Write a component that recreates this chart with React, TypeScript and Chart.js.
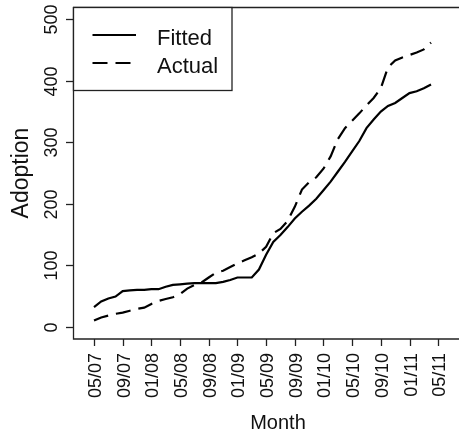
import React, { useEffect, useRef } from "react";
import { Chart, registerables } from "chart.js";

Chart.register(...registerables);

const months = [
  "05/07","06/07","07/07","08/07","09/07","10/07","11/07","12/07",
  "01/08","02/08","03/08","04/08","05/08","06/08","07/08","08/08",
  "09/08","10/08","11/08","12/08","01/09","02/09","03/09","04/09",
  "05/09","06/09","07/09","08/09","09/09","10/09","11/09","12/09",
  "01/10","02/10","03/10","04/10","05/10","06/10","07/10","08/10",
  "09/10","10/10","11/10","12/10","01/11","02/11","03/11","04/11",
];

const fitted = [
  32, 41, 46, 49, 58, 59, 60, 60,
  61, 61, 65, 68, 69, 70, 71, 71,
  71, 71, 73, 76, 80, 80, 80, 93,
  117, 138, 149, 162, 176, 187, 197, 208,
  222, 236, 252, 268, 285, 302, 323, 337,
  350, 359, 364, 372, 380, 383, 388, 394,
];

const actual = [
  10, 15, 18, 21, 23, 26, 29, 31,
  37, 42, 45, 48, 53, 62, 68, 72,
  80, 88, 91, 97, 103, 108, 113, 119,
  130, 152, 159, 172, 195, 223, 235, 243,
  257, 277, 305, 323, 335, 347, 360, 372,
  388, 422, 433, 438, 442, 446, 451, 462,
];

const yTicks = [0, 100, 200, 300, 400, 500];
const xTickLabels = [
  "05/07","09/07","01/08","05/08","09/08","01/09","05/09",
  "09/09","01/10","05/10","09/10","01/11","05/11",
];
const xTickStep = 4;
const seriesNames = ["Fitted", "Actual"];
const xTitle = "Month";
const yTitle = "Adoption";

const FONT = '"Liberation Sans", Arial, Helvetica, sans-serif';
const DASH = [15, 8];

const rPlot = {
  id: "rPlot",
  afterDraw(chart: any) {
    const ctx = chart.ctx as CanvasRenderingContext2D;
    const { left, right, top, bottom } = chart.chartArea;
    const xs = chart.scales.x;
    const ys = chart.scales.y;
    ctx.save();
    ctx.strokeStyle = "#222";
    ctx.fillStyle = "#111";
    ctx.lineWidth = 1.3;
    // box
    ctx.beginPath();
    ctx.moveTo(left, top + 0.5);
    ctx.lineTo(right, top + 0.5);
    ctx.lineTo(right, bottom);
    ctx.lineTo(left + 0.5, bottom);
    ctx.lineTo(left + 0.5, top);
    ctx.stroke();

    // y ticks
    ctx.font = "18px " + FONT;
    yTicks.forEach((v) => {
      const y = Math.round(ys.getPixelForValue(v)) + 0.5;
      ctx.beginPath();
      ctx.moveTo(left - 7, y);
      ctx.lineTo(left, y);
      ctx.stroke();
      ctx.save();
      ctx.translate(57, y);
      ctx.rotate(-Math.PI / 2);
      ctx.textAlign = "center";
      ctx.textBaseline = "alphabetic";
      ctx.fillText(String(v), 0, 0);
      ctx.restore();
    });

    // x ticks
    xTickLabels.forEach((lab, i) => {
      const x = Math.round(xs.getPixelForValue(i * xTickStep)) + 0.5;
      ctx.beginPath();
      ctx.moveTo(x, bottom);
      ctx.lineTo(x, bottom + 7);
      ctx.stroke();
      ctx.save();
      ctx.translate(x + 6.5, 353);
      ctx.rotate(-Math.PI / 2);
      ctx.textAlign = "right";
      ctx.textBaseline = "alphabetic";
      ctx.fillText(lab, 0, 0);
      ctx.restore();
    });

    // titles
    ctx.font = "20px " + FONT;
    ctx.textAlign = "center";
    ctx.textBaseline = "alphabetic";
    ctx.fillText(xTitle, (left + right) / 2, 429);
    ctx.save();
    ctx.font = "23px " + FONT;
    ctx.translate(28, (top + bottom) / 2);
    ctx.rotate(-Math.PI / 2);
    ctx.fillText(yTitle, 0, 0);
    ctx.restore();

    // legend
    ctx.fillStyle = "#fff";
    ctx.fillRect(left + 0.5, top + 0.5, 158, 83);
    ctx.strokeStyle = "#222";
    ctx.lineWidth = 1.3;
    ctx.strokeRect(left + 0.5, top + 0.5, 158.5, 83);
    const ds = chart.data.datasets;
    const rows = [35, 63];
    const bases = [44.5, 72.5];
    ds.forEach((d: any, i: number) => {
      ctx.save();
      ctx.strokeStyle = "#000";
      ctx.lineWidth = 2.2;
      ctx.setLineDash(d.borderDash || []);
      ctx.beginPath();
      ctx.moveTo(92.5, rows[i]);
      ctx.lineTo(136, rows[i]);
      ctx.stroke();
      ctx.restore();
      ctx.fillStyle = "#111";
      ctx.font = "22px " + FONT;
      ctx.textAlign = "left";
      ctx.fillText(d.label, 157, bases[i]);
    });
    ctx.restore();
  },
};

export default function App() {
  const ref = useRef<HTMLCanvasElement | null>(null);
  useEffect(() => {
    if (!ref.current) return;
    const chart = new Chart(ref.current, {
      type: "line",
      data: {
        datasets: [
          {
            label: seriesNames[0],
            data: fitted.map((v, i) => ({ x: i, y: v })),
            borderColor: "#000",
            borderWidth: 2.2,
            pointRadius: 0,
            tension: 0,
            fill: false,
          },
          {
            label: seriesNames[1],
            data: actual.map((v, i) => ({ x: i, y: v })),
            borderColor: "#000",
            borderWidth: 2.2,
            borderDash: DASH,
            pointRadius: 0,
            tension: 0,
            fill: false,
          },
        ],
      },
      options: {
        animation: false,
        responsive: false,
        devicePixelRatio: 1,
        layout: { padding: { left: 73, right: 7, top: 7, bottom: 97 } },
        plugins: { legend: { display: false }, tooltip: { enabled: false } },
        scales: {
          x: { type: "linear", min: -2.93, max: 54.25, display: false },
          y: { type: "linear", min: -20, max: 520, display: false },
        },
      },
      plugins: [rPlot],
    });
    return () => chart.destroy();
  }, []);
  return (
    <div
      style={{
        position: "absolute",
        left: 0,
        top: 0,
        width: 459,
        height: 436,
        overflow: "hidden",
        background: "#fff",
      }}
    >
      <canvas ref={ref} width={490} height={436} data-months={months.length} />
    </div>
  );
}
